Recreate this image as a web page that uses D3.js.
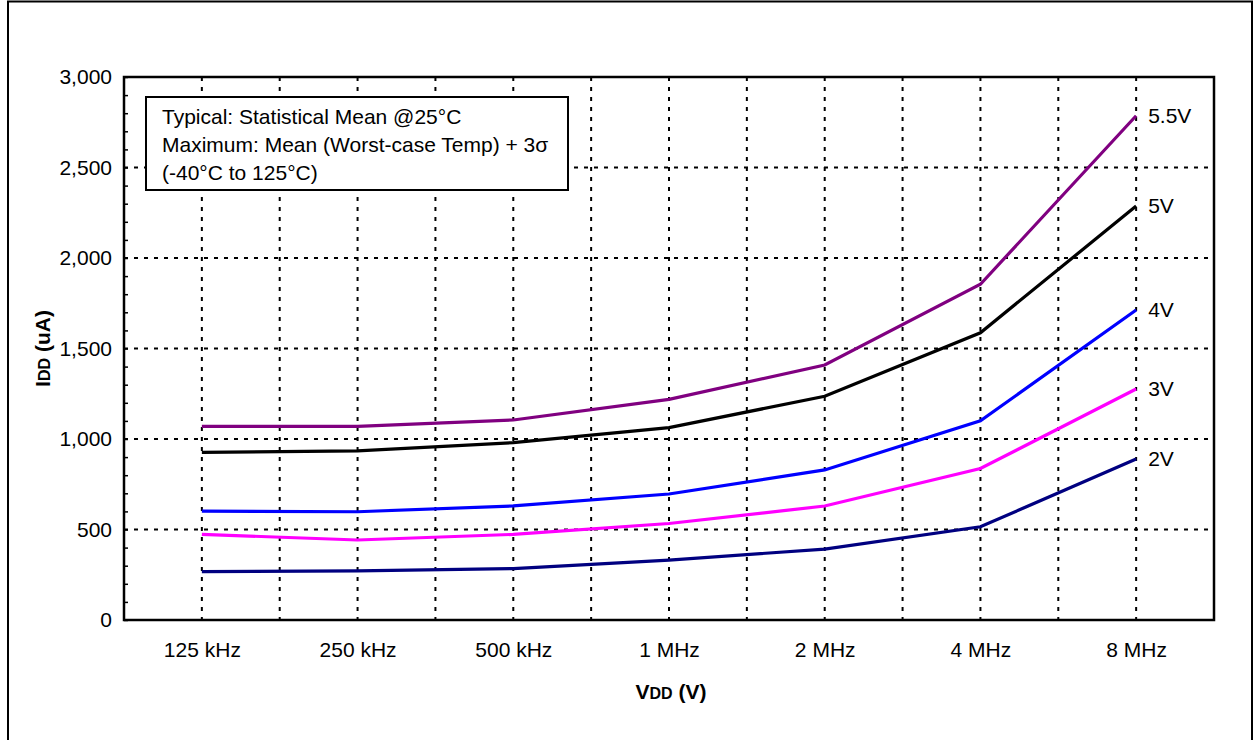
<!DOCTYPE html>
<html>
<head>
<meta charset="utf-8">
<script src="https://cdn.jsdelivr.net/npm/d3@7"></script>
<style>
  html, body { margin: 0; padding: 0; background: #fff; }
  svg { display: block; font-family: "Liberation Sans", Arial, sans-serif; }
</style>
</head>
<body>
<svg id="chart" width="1255" height="740"></svg>
<script>
// ---- data ----
const categories = ["125 kHz", "250 kHz", "500 kHz", "1 MHz", "2 MHz", "4 MHz", "8 MHz"];
const seriesNames = ["5.5V", "5V", "4V", "3V", "2V"];
const v55 = [1070, 1070, 1105, 1219, 1409, 1855, 2786];
const v50 = [926, 934, 980, 1063, 1236, 1587, 2287];
const v40 = [602, 598, 630, 696, 829, 1100, 1713];
const v30 = [473, 442, 473, 533, 630, 837, 1276];
const v20 = [267, 271, 284, 331, 392, 515, 889];
const seriesColors = ["#800080", "#000000", "#0000ff", "#ff00ff", "#000080"];
const yTicks = [0, 500, 1000, 1500, 2000, 2500, 3000];
const legendLines = ["Typical: Statistical Mean @25°C", "Maximum: Mean (Worst-case Temp) + 3σ", "(-40°C to 125°C)"];

const seriesValues = [v55, v50, v40, v30, v20];

const svg = d3.select("#chart");
const FS = 21;

// outer frame
svg.append("rect").attr("x", 8).attr("y", 1.5).attr("width", 1244).attr("height", 760)
  .attr("fill", "none").attr("stroke", "#000").attr("stroke-width", 2);

const L = 124, R = 1214, T = 77, B = 620;
const x = d3.scalePoint().domain(categories).range([L, R]).padding(0.5);
const xb = d3.scaleBand().domain(categories).range([L, R]);
const y = d3.scaleLinear().domain([0, 3000]).range([B, T]);

// gridlines
const grid = svg.append("g").attr("stroke", "#000").attr("stroke-width", 2).attr("stroke-dasharray", "4,6");
yTicks.filter(t => t > 0 && t < 3000).forEach(t => {
  grid.append("line").attr("x1", L).attr("x2", R).attr("y1", y(t)).attr("y2", y(t));
});
const vx = categories.map(c => x(c)).concat(categories.slice(1).map(c => xb(c)));
vx.forEach(px => {
  grid.append("line").attr("x1", px).attr("x2", px).attr("y1", T).attr("y2", B);
});

// minor ticks (inward)
const minor = d3.range(0, 3001, 100);
svg.append("g").attr("transform", `translate(${L},0)`)
  .call(d3.axisRight(y).tickValues(minor).tickSize(4).tickFormat(""))
  .call(g => g.select(".domain").remove())
  .call(g => g.selectAll("line").attr("stroke", "#000").attr("stroke-width", 1.5));

// y axis labels
svg.append("g").attr("transform", `translate(${L},0)`)
  .call(d3.axisLeft(y).tickValues(yTicks).tickSize(0).tickPadding(12).tickFormat(d3.format(",")))
  .call(g => g.select(".domain").remove())
  .call(g => g.selectAll("text").attr("font-size", FS).attr("fill", "#000").attr("font-family", "Liberation Sans, Arial, sans-serif"));

// x axis labels
svg.append("g").attr("transform", `translate(0,${B})`)
  .call(d3.axisBottom(x).tickSize(0).tickPadding(22))
  .call(g => g.select(".domain").remove())
  .call(g => g.selectAll("text").attr("font-size", FS).attr("fill", "#000").attr("font-family", "Liberation Sans, Arial, sans-serif"));

// series lines
const line = d3.line().x((d, i) => x(categories[i])).y(d => y(d));
seriesValues.forEach((vals, k) => {
  svg.append("path").datum(vals).attr("d", line)
    .attr("fill", "none").attr("stroke", seriesColors[k]).attr("stroke-width", 3.2)
    .attr("stroke-linejoin", "miter");
  svg.append("text").attr("x", x(categories[categories.length - 1]) + 12)
    .attr("y", y(vals[vals.length - 1])).attr("dy", "0.35em")
    .attr("font-size", FS).attr("fill", "#000").text(seriesNames[k]);
});

// plot border
svg.append("rect").attr("x", L).attr("y", T).attr("width", R - L).attr("height", B - T)
  .attr("fill", "none").attr("stroke", "#000").attr("stroke-width", 2.5);

// legend/note box
svg.append("rect").attr("x", 146).attr("y", 97).attr("width", 422).attr("height", 93)
  .attr("fill", "#fff").attr("stroke", "#000").attr("stroke-width", 2);
legendLines.forEach((t, i) => {
  svg.append("text").attr("x", 162).attr("y", 124 + i * 28)
    .attr("font-size", FS).attr("fill", "#000").text(t);
});

// axis titles
const xt = svg.append("text").attr("x", (L + R) / 2 + 2).attr("y", 699)
  .attr("text-anchor", "middle").attr("font-weight", "bold").attr("fill", "#000");
xt.append("tspan").attr("font-size", 21).text("V");
xt.append("tspan").attr("font-size", 16).text("DD");
xt.append("tspan").attr("font-size", 21).text(" (V)");

const yt = svg.append("text").attr("transform", `translate(50,${(T + B) / 2}) rotate(-90)`)
  .attr("text-anchor", "middle").attr("font-weight", "bold").attr("fill", "#000");
yt.append("tspan").attr("font-size", 21).text("I");
yt.append("tspan").attr("font-size", 16).text("DD");
yt.append("tspan").attr("font-size", 21).text(" (uA)");
</script>
</body>
</html>
